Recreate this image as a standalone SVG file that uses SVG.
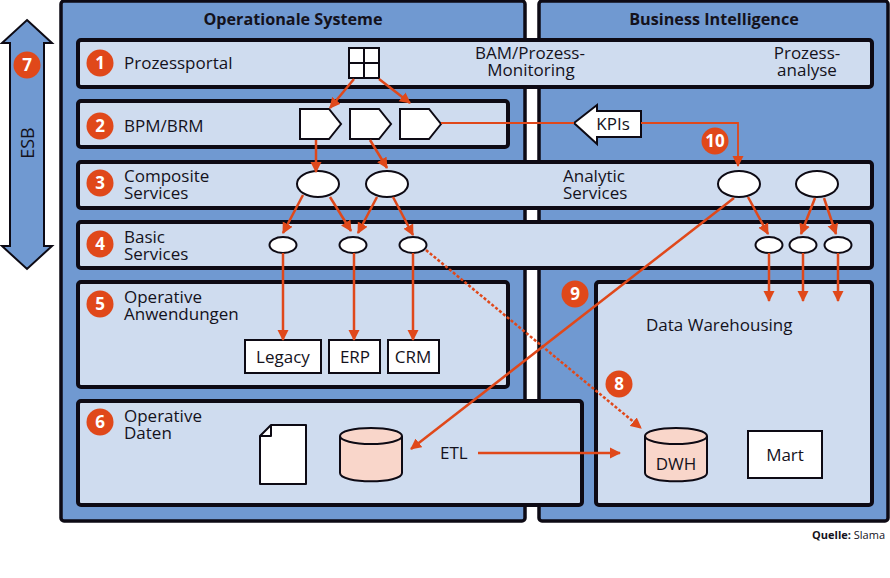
<svg xmlns="http://www.w3.org/2000/svg" width="890" height="578" viewBox="0 0 890 578">
<style>
text{font-family:"Open Sans","Noto Sans",sans-serif;font-size:17px;fill:#14121c}
.h{font-weight:700;font-size:16.2px;text-anchor:middle}
.m{text-anchor:middle}
.panel{fill:#7099d1;stroke:#0d0a14;stroke-width:3.5}
.row{fill:#cfdcef;stroke:#0d0a14;stroke-width:4}
.w{fill:#fff;stroke:#0d0a14;stroke-width:2}
.p{fill:#f9d6ca;stroke:#0d0a14;stroke-width:2}
.b{fill:#e0481a}
.n{fill:#fff;font-weight:700;font-size:17px;text-anchor:middle}
.c{fill:none;stroke:#e0481a;stroke-width:2.5;marker-end:url(#a)}
</style>
<defs>
<marker id="a" markerUnits="userSpaceOnUse" markerWidth="12" markerHeight="12" refX="10" refY="6" orient="auto"><path d="M0 0.5L11 6L0 11.5Z" fill="#e0481a"/></marker>
</defs>
<rect width="890" height="578" fill="#fff"/>
<g id="panel-os"><rect class="panel" x="61" y="1" width="464" height="520" rx="3"/><text class="h" x="293" y="25">Operationale Systeme</text></g>
<g id="panel-bi"><rect class="panel" x="539" y="1" width="349" height="520" rx="3"/><text class="h" x="714" y="25">Business Intelligence</text></g>
<g id="esb"><path d="M27 20L52 43H44V246H52L27 269L2 246H10V43H2Z" fill="#7099d1" stroke="#0d0a14" stroke-width="2"/><text class="m" style="font-size:18px" transform="translate(34 143) rotate(-90)">ESB</text><circle class="b" cx="27" cy="65" r="13.5"/><text class="n" x="27" y="71">7</text></g>
<g id="row1"><rect class="row" x="78" y="40" width="794" height="47" rx="3"/><circle class="b" cx="100" cy="63" r="13.5"/><text class="n" x="100" y="69">1</text><text x="124" y="69">Prozessportal</text><text class="m" y="59"><tspan x="530">BAM/Prozess-</tspan><tspan x="531" dy="17">Monitoring</tspan></text><text class="m" y="59"><tspan x="807">Prozess-</tspan><tspan x="807" dy="17">analyse</tspan></text></g>
<g id="row2"><rect class="row" x="78" y="101" width="430" height="46" rx="3"/><circle class="b" cx="100" cy="126" r="13.5"/><text class="n" x="100" y="132">2</text><text x="124" y="132">BPM/BRM</text></g>
<g id="row3"><rect class="row" x="78" y="162" width="794" height="46" rx="3"/><circle class="b" cx="100" cy="183" r="13.5"/><text class="n" x="100" y="189">3</text><text y="182"><tspan x="124">Composite</tspan><tspan x="124" dy="17">Services</tspan></text><text y="182"><tspan x="563">Analytic</tspan><tspan x="563" dy="17">Services</tspan></text></g>
<g id="row4"><rect class="row" x="78" y="222" width="794" height="46" rx="3"/><circle class="b" cx="100" cy="244" r="13.5"/><text class="n" x="100" y="250">4</text><text y="243"><tspan x="124">Basic</tspan><tspan x="124" dy="17">Services</tspan></text></g>
<g id="row5"><rect class="row" x="78" y="282" width="430" height="105" rx="3"/><circle class="b" cx="100" cy="304" r="13.5"/><text class="n" x="100" y="310">5</text><text y="303"><tspan x="124">Operative</tspan><tspan x="124" dy="17">Anwendungen</tspan></text></g>
<g id="row6"><rect class="row" x="78" y="401" width="504" height="104" rx="3"/><circle class="b" cx="100" cy="422" r="13.5"/><text class="n" x="100" y="428">6</text><text y="422"><tspan x="124">Operative</tspan><tspan x="124" dy="17">Daten</tspan></text><text x="440" y="459">ETL</text></g>
<g id="dw"><rect class="row" x="596" y="282" width="276" height="223" rx="3"/><text x="646" y="331">Data Warehousing</text></g>
<g id="portal"><rect class="w" x="349" y="48" width="30" height="30"/><path d="M364 48V78M349 63H379" stroke="#0d0a14" stroke-width="2" fill="none"/></g>
<g id="bpm1"><path class="w" d="M300 109H329L341 124L329 139H300Z"/></g>
<g id="bpm2"><path class="w" d="M350 109H379L391 124L379 139H350Z"/></g>
<g id="bpm3"><path class="w" d="M400 109H429L441 124L429 139H400Z"/></g>
<g id="cs1"><ellipse class="w" cx="318" cy="184" rx="21" ry="13"/></g>
<g id="cs2"><ellipse class="w" cx="387" cy="184" rx="21" ry="13"/></g>
<g id="cs3"><ellipse class="w" cx="739" cy="184" rx="21" ry="13"/></g>
<g id="cs4"><ellipse class="w" cx="817" cy="184" rx="21" ry="13"/></g>
<g id="bs1"><ellipse class="w" cx="283" cy="245" rx="13.5" ry="8"/></g>
<g id="bs2"><ellipse class="w" cx="353" cy="245" rx="13.5" ry="8"/></g>
<g id="bs3"><ellipse class="w" cx="413" cy="245" rx="13.5" ry="8"/></g>
<g id="bs4"><ellipse class="w" cx="769" cy="245" rx="13.5" ry="8"/></g>
<g id="bs5"><ellipse class="w" cx="803" cy="245" rx="13.5" ry="8"/></g>
<g id="bs6"><ellipse class="w" cx="838" cy="245" rx="13.5" ry="8"/></g>
<g id="legacy"><rect class="w" x="245" y="340" width="76" height="33"/><text class="m" x="283" y="363">Legacy</text></g>
<g id="erp"><rect class="w" x="329" y="340" width="51" height="33"/><text class="m" x="355" y="363">ERP</text></g>
<g id="crm"><rect class="w" x="388" y="340" width="51" height="33"/><text class="m" x="413" y="363">CRM</text></g>
<g id="doc"><path class="w" d="M271 425H306V484H260V436ZM271 425V436H260" stroke-linejoin="round"/></g>
<g id="db"><path class="p" d="M340 436V473C340 484 402 484 402 473V436"/><ellipse class="p" cx="371" cy="436" rx="31" ry="8"/></g>
<g id="dwh"><path class="p" d="M645 436V473C645 484 707 484 707 473V436"/><ellipse class="p" cx="676" cy="436" rx="31" ry="8"/><text class="m" x="676" y="470">DWH</text></g>
<g id="mart"><rect class="w" x="748" y="431" width="74" height="47"/><text class="m" x="785" y="461">Mart</text></g>
<g id="kpis"><path class="w" d="M574 123L597 105V111H641V137H597V144Z"/><text class="m" x="613" y="130">KPIs</text></g>
<g id="connectors">
<path class="c" d="M354 79L330 108"/><path class="c" d="M379 79L410 103"/>
<path class="c" d="M316 140V172"/><path class="c" d="M370 140L387 168"/>
<path class="c" d="M303 195L283 233"/><path class="c" d="M330 197L351 231"/><path class="c" d="M377 197L358 233"/><path class="c" d="M393 197L413 235"/>
<path class="c" d="M283 253V340"/><path class="c" d="M354 253V340"/><path class="c" d="M413 253V340"/>
<path d="M441 123H574" fill="none" stroke="#e0481a" stroke-width="1.8"/>
<path class="c" style="stroke-width:1.8" d="M641 123H738V166"/>
<path class="c" d="M734 198L411 449"/>
<path class="c" d="M748 197L768 234"/><path class="c" d="M815 198L801 234"/><path class="c" d="M824 198L836 234"/>
<path class="c" d="M769 253V301"/><path class="c" d="M803 253V301"/><path class="c" d="M838 253V301"/>
<path class="c" style="stroke-dasharray:3 2" d="M426 250L641 428"/>
<path class="c" d="M478 453H620"/>
</g>
<g id="badges"><circle class="b" cx="619" cy="384" r="13.5"/><text class="n" x="619" y="390">8</text><circle class="b" cx="575" cy="294" r="13.5"/><text class="n" x="575" y="300">9</text><circle class="b" cx="715" cy="141" r="13.5"/><text class="n" x="715" y="147">10</text></g>
<text x="885" y="539" text-anchor="end" style="font-size:11px"><tspan font-weight="700">Quelle:</tspan> Slama</text>
</svg>
